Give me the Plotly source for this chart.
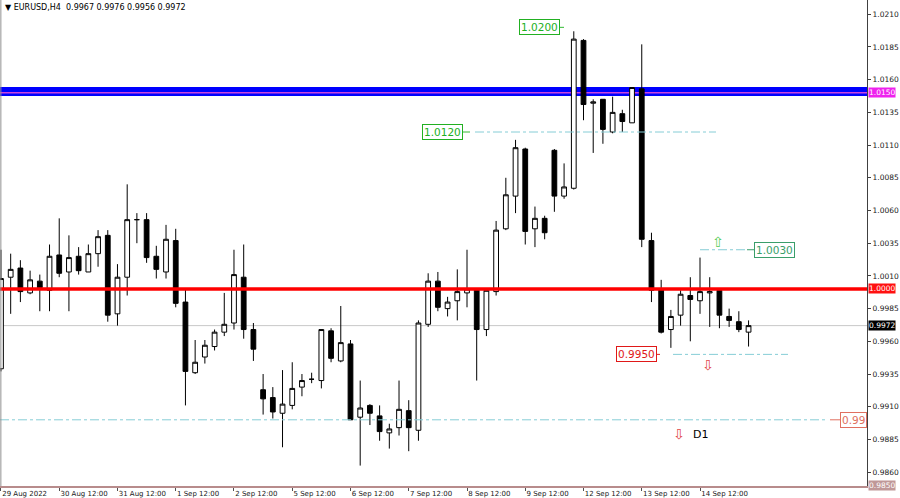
import plotly.graph_objects as go

# ---------------- data ----------------
days = ["2022-08-29", "2022-08-30", "2022-08-31", "2022-09-01", "2022-09-02",
        "2022-09-05", "2022-09-06", "2022-09-07", "2022-09-08", "2022-09-09",
        "2022-09-12", "2022-09-13", "2022-09-14", "2022-09-15"]
hours = ["00:00", "04:00", "08:00", "12:00", "16:00", "20:00"]
all_bars = [f"{d} {h}" for d in days for h in hours]
bar_times = all_bars[3:81]

opens = [0.9939, 1.0009, 1.0016, 0.9997, 1.0006, 0.9999, 1.0026, 1.0013, 1.0025, 1.0013,
         1.0027, 1.0041, 0.9981, 1.0009, 1.0053, 1.0053, 1.0025, 1.0013, 1.0037, 0.9990,
         0.9936, 0.9948, 0.9956, 0.9967, 0.9974, 1.0009, 0.9969, 0.9923, 0.9917, 0.9905,
         0.9911, 0.9925, 0.9931, 0.9930, 0.9968, 0.9945, 0.9958, 0.9902, 0.9911, 0.9903,
         0.9890, 0.9894, 0.9907, 0.9892, 0.9973, 1.0006, 0.9985, 0.9991, 0.9997, 1.0000,
         0.9969, 0.9998, 1.0046, 1.0071, 1.0107, 1.0046, 1.0054, 1.0106, 1.0071, 1.0077,
         1.0190, 1.0142, 1.0145, 1.0120, 1.0134, 1.0127, 1.0153, 1.0037, 1.0000, 0.9969,
         0.9980, 0.9995, 0.9991, 0.9997, 0.9999, 0.9979, 0.9975, 0.9967]
highs = [1.0030, 1.0027, 1.0022, 1.0014, 1.0011, 1.0034, 1.0054, 1.0041, 1.0032, 1.0034,
         1.0045, 1.0045, 1.0019, 1.0080, 1.0058, 1.0058, 1.0033, 1.0049, 1.0046, 1.0000,
         0.9961, 0.9961, 0.9969, 0.9997, 1.0030, 1.0034, 0.9974, 0.9935, 0.9925, 0.9938,
         0.9944, 0.9935, 0.9936, 0.9969, 0.9970, 0.9987, 0.9961, 0.9930, 0.9912, 0.9911,
         0.9897, 0.9930, 0.9915, 0.9976, 1.0012, 1.0013, 0.9994, 1.0015, 1.0030, 1.0000,
         0.9999, 1.0052, 1.0085, 1.0114, 1.0108, 1.0063, 1.0056, 1.0107, 1.0096, 1.0197,
         1.0191, 1.0145, 1.0145, 1.0147, 1.0137, 1.0154, 1.0187, 1.0043, 1.0007, 0.9984,
         0.9999, 1.0009, 1.0024, 1.0009, 1.0000, 0.9985, 0.9983, 0.9976]
lows = [0.9937, 0.9981, 0.9990, 0.9996, 0.9983, 0.9983, 1.0009, 0.9983, 1.0011, 1.0013,
        1.0017, 0.9975, 0.9972, 0.9995, 1.0035, 1.0020, 1.0008, 1.0008, 0.9986, 0.9911,
        0.9935, 0.9943, 0.9953, 0.9964, 0.9969, 0.9962, 0.9945, 0.9904, 0.9901, 0.9879,
        0.9908, 0.9918, 0.9928, 0.9924, 0.9944, 0.9944, 0.9900, 0.9865, 0.9896, 0.9884,
        0.9878, 0.9888, 0.9876, 0.9884, 0.9971, 0.9983, 0.9979, 0.9976, 0.9986, 0.9930,
        0.9964, 0.9995, 1.0045, 1.0058, 1.0034, 1.0032, 1.0038, 1.0059, 1.0069, 1.0076,
        1.0129, 1.0104, 1.0111, 1.0119, 1.0120, 1.0127, 1.0032, 0.9990, 0.9966, 0.9955,
        0.9972, 0.9960, 0.9981, 0.9971, 0.9970, 0.9971, 0.9967, 0.9956]
closes = [1.0008, 1.0015, 0.9998, 1.0007, 1.0001, 1.0025, 1.0012, 1.0024, 1.0014, 1.0027,
          1.0040, 0.9980, 1.0009, 1.0053, 1.0053, 1.0024, 1.0015, 1.0038, 0.9989, 0.9937,
          0.9944, 0.9957, 0.9967, 0.9973, 1.0011, 0.9969, 0.9954, 0.9916, 0.9906, 0.9912,
          0.9924, 0.9930, 0.9931, 0.9969, 0.9947, 0.9959, 0.9900, 0.9909, 0.9905, 0.9891,
          0.9893, 0.9908, 0.9894, 0.9974, 1.0006, 0.9986, 0.9990, 0.9998, 1.0000, 0.9969,
          0.9999, 1.0045, 1.0072, 1.0108, 1.0044, 1.0054, 1.0043, 1.0071, 1.0078, 1.0191,
          1.0141, 1.0143, 1.0122, 1.0135, 1.0128, 1.0154, 1.0038, 0.9999, 0.9967, 0.9979,
          0.9996, 0.9992, 0.9998, 0.9998, 0.9980, 0.9976, 0.9969, 0.9972]

tick_times = ["2022-08-29 12:00", "2022-08-30 12:00", "2022-08-31 12:00", "2022-09-01 12:00",
              "2022-09-02 12:00", "2022-09-05 12:00", "2022-09-06 12:00", "2022-09-07 12:00",
              "2022-09-08 12:00", "2022-09-09 12:00", "2022-09-12 12:00", "2022-09-13 12:00",
              "2022-09-14 12:00"]
tick_labels = ["29 Aug 2022", "30 Aug 12:00", "31 Aug 12:00", "1 Sep 12:00", "2 Sep 12:00",
               "5 Sep 12:00", "6 Sep 12:00", "7 Sep 12:00", "8 Sep 12:00", "9 Sep 12:00",
               "12 Sep 12:00", "13 Sep 12:00", "14 Sep 12:00"]
price_ticks = [0.9860, 0.9885, 0.9910, 0.9935, 0.9960, 0.9985, 1.0010, 1.0035,
               1.0060, 1.0085, 1.0110, 1.0135, 1.0160, 1.0185, 1.0210]

zone_level = 1.0151
resist_level = 1.0150
pivot_level = 1.0000
bid_level = 0.9972
bottom_level = 0.9850
target_up_far = 1.0200
target_up = 1.0120
target_mid = 1.0030
target_down = 0.9950
target_down_far = 0.9900

title_text = "▼ EURUSD,H4  0.9967 0.9976 0.9956 0.9972"

# ---------------- figure ----------------
W = 867.0
def px(v):
    return v / W

fig = go.Figure()
fig.add_trace(go.Candlestick(
    x=bar_times, open=opens, high=highs, low=lows, close=closes,
    increasing=dict(line=dict(color="#000000", width=1), fillcolor="#ffffff"),
    decreasing=dict(line=dict(color="#000000", width=1), fillcolor="#000000"),
    whiskerwidth=0, hoverinfo="skip", showlegend=False,
))

FONT = "DejaVu Sans"
shapes = []
def hline(y, color, width, layer="above", x0=0.0, x1=1.0, dash="solid"):
    shapes.append(dict(type="line", xref="paper", yref="y", x0=x0, x1=x1, y0=y, y1=y,
                       line=dict(color=color, width=width, dash=dash), layer=layer))

hline(bid_level, "#c8c8c8", 1, layer="below")
hline(zone_level, "#0000ff", 9, layer="below")
hline(resist_level, "#cc44dd", 1.5, layer="below")
hline(pivot_level, "#ff0000", 3.5, layer="above")

dd = "#86cdd6"
hline(target_up, dd, 1, x0=px(475), x1=px(716), dash="dashdot")
hline(target_up, "#33bb33", 1, x0=px(462), x1=px(470))
hline(target_up_far, "#33bb33", 1, x0=px(558), x1=px(564))
hline(target_mid, dd, 1, x0=px(700), x1=px(747), dash="dashdot")
hline(target_mid, "#3a9e6a", 1, x0=px(747), x1=px(754))
hline(target_down, dd, 1, x0=px(673), x1=px(788), dash="dashdot")
hline(target_down, "#e02020", 1, x0=px(654), x1=px(660))
hline(target_down_far, dd, 1, x0=0.0, x1=px(825), dash="dashdot")
hline(target_down_far, "#e07060", 1, x0=px(830), x1=px(840))
# left frame
shapes.append(dict(type="line", xref="paper", yref="paper", x0=0.001, x1=0.001, y0=0, y1=1,
                   line=dict(color="#909090", width=1)))

ann = []
def box(text, xpix, y, color, size=10.5):
    ann.append(dict(text=text, xref="paper", yref="y", x=px(xpix), y=y, xanchor="left",
                    yanchor="middle", showarrow=False, bgcolor="#ffffff", bordercolor=color,
                    borderwidth=1, borderpad=1, font=dict(family=FONT, size=size, color=color)))

box(f"{target_up_far:.4f}", 519, target_up_far, "#22b022")
box(f"{target_up:.4f}", 422, target_up, "#22b022")
box(f"{target_mid:.4f}", 754, target_mid, "#3a9e6a")
box(f"{target_down:.4f}", 616, target_down, "#e01818")
box(f"{target_down_far:.4f}"[:4], 840, target_down_far, "#e07060")

def axis_label(text, y, bg, fg="#ffffff"):
    ann.append(dict(text=text, xref="paper", yref="y", x=1, y=y, xanchor="left", xshift=1,
                    yanchor="middle", showarrow=False, bgcolor=bg, borderpad=0,
                    font=dict(family=FONT, size=7.5, color=fg)))

axis_label(f"{resist_level:.4f}", resist_level, "#ee22ee")
axis_label(f"{pivot_level:.4f}", pivot_level, "#ff1010")
axis_label(f"{bid_level:.4f}", bid_level, "#000000")
axis_label(f"{bottom_level:.4f}", bottom_level, "#c09898")

def mark(text, xpix, ypix, color, size=10):
    ann.append(dict(text=text, xref="paper", yref="paper", x=px(xpix), y=1 - ypix / 486.0,
                    xanchor="center", yanchor="middle", showarrow=False,
                    font=dict(family=FONT, size=size, color=color)))

mark("⇧", 718, 242, "#55cc55", size=14)
mark("⇩", 708, 365, "#e04848", size=14)
mark("⇩", 679, 434, "#e04848", size=14)
mark("D1", 700, 434, "#000000", size=11)

ann.append(dict(text=title_text, xref="paper", yref="paper", x=0.003, y=1, xanchor="left",
                yanchor="top", yshift=-1, showarrow=False,
                font=dict(family=FONT, size=8, color="#000000")))

fig.update_layout(
    width=900, height=498,
    margin=dict(l=0, r=33, t=0, b=12, pad=0),
    paper_bgcolor="#ffffff", plot_bgcolor="#ffffff",
    showlegend=False, hovermode=False,
    boxgap=0.3,
    shapes=shapes, annotations=ann,
    xaxis=dict(type="category", range=[-0.1, 89.2], rangeslider=dict(visible=False),
               tickmode="array", tickvals=tick_times, ticktext=tick_labels,
               ticklabelposition="outside right", ticks="outside", ticklen=3,
               tickcolor="#505050", showgrid=False, zeroline=False, showline=True,
               linecolor="#b88c8c", linewidth=1.5, automargin=False,
               tickfont=dict(family=FONT, size=7, color="#202020")),
    yaxis=dict(side="right", range=[0.98494, 1.02209], tickmode="array",
               tickvals=price_ticks, ticktext=[f"{v:.4f}" for v in price_ticks],
               ticks="outside", ticklen=3, tickcolor="#404040", showgrid=False,
               zeroline=False, showline=True, linecolor="#404040", linewidth=1,
               automargin=False, tickfont=dict(family=FONT, size=7.5, color="#202020")),
)

fig.write_html("out.html", config={"displayModeBar": False},
               post_script="document.body.style.margin='0px';")
